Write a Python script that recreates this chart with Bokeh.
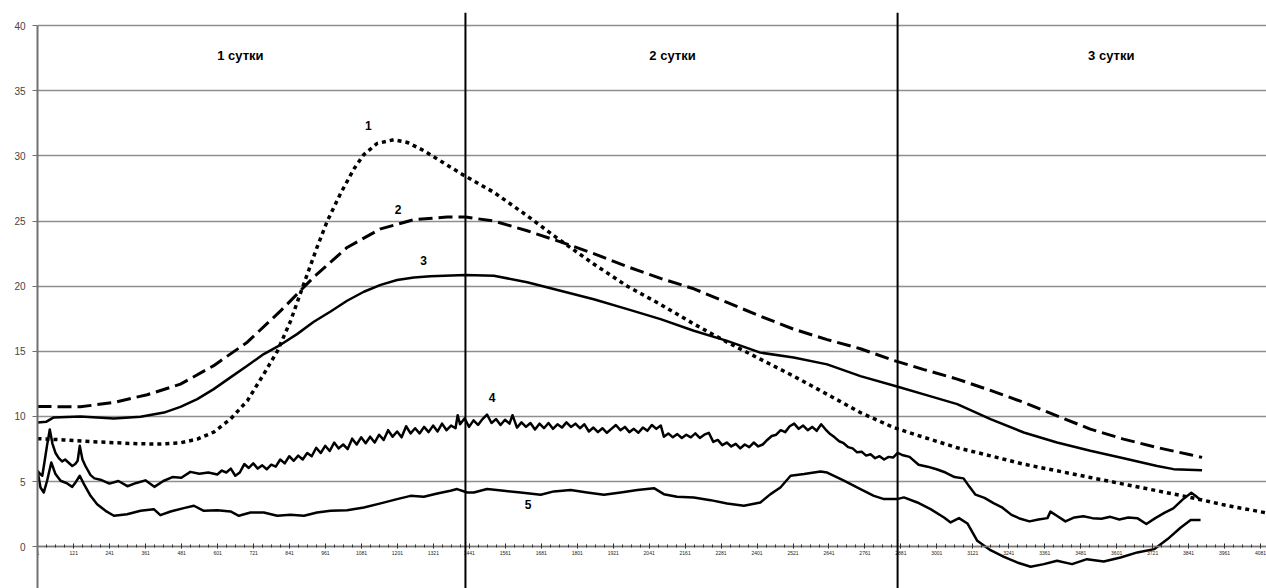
from bokeh.plotting import figure
from bokeh.models import FixedTicker, Span
from bokeh.core.properties import value
from bokeh.embed import file_html
from bokeh.resources import INLINE

# ---- axes ----
x_ticks = list(range(1, 4082, 120))
x_minor = list(range(1, 4100, 30))
y_ticks = [0, 5, 10, 15, 20, 25, 30, 35, 40]
day_bounds = [1428, 2870]
day_labels = ["1 сутки", "2 сутки", "3 сутки"]
day_label_x = [677, 2119, 3583]
day_label_y = [37.7, 37.7, 37.7]
curve_labels = ["1", "2", "3", "4", "5"]
curve_label_x = [1104, 1203, 1288, 1517, 1637]
curve_label_y = [32.3, 25.9, 21.95, 11.46, 3.22]

# ---- series 1 (dotted) ----
x1 = [0, 88, 199, 310, 400, 477, 533, 588, 644, 700, 755, 800, 844, 889, 933, 967,
      1011, 1056, 1089, 1133, 1189, 1234, 1289, 1345, 1423, 1523, 1634, 1745, 1856,
      1968, 2079, 2190, 2301, 2412, 2523, 2635, 2746, 2857, 2958, 3069, 3180, 3291,
      3402, 3513, 3624, 3736, 3847, 3958, 4101]
y1 = [8.3, 8.2, 8.05, 7.93, 7.88, 7.98, 8.26, 8.8, 9.8, 11.2, 13.25, 15.0, 17.3, 20.2,
      23.0, 25.0, 27.1, 29.0, 30.1, 30.95, 31.24, 31.03, 30.4, 29.6, 28.5, 27.2, 25.4,
      23.5, 21.7, 20.0, 18.6, 17.1, 15.7, 14.4, 13.1, 11.7, 10.3, 9.15, 8.4, 7.6, 6.98,
      6.34, 5.83, 5.32, 4.81, 4.3, 3.79, 3.22, 2.6]

# ---- series 2 (dashed) ----
x2 = [0, 143, 255, 366, 477, 588, 700, 811, 922, 1033, 1145, 1256, 1367, 1428, 1523,
      1634, 1745, 1856, 1968, 2079, 2190, 2301, 2412, 2523, 2635, 2746, 2857, 2958,
      3069, 3180, 3291, 3402, 3513, 3624, 3736, 3847, 3886]
y2 = [10.77, 10.74, 11.08, 11.67, 12.48, 13.9, 15.7, 18.1, 20.7, 22.97, 24.4, 25.1,
      25.3, 25.3, 25.0, 24.25, 23.4, 22.5, 21.5, 20.6, 19.8, 18.75, 17.7, 16.7, 15.9,
      15.2, 14.3, 13.6, 12.87, 12.0, 11.08, 10.05, 9.03, 8.26, 7.62, 7.06, 6.86]

# ---- series 3 (solid) ----
x3 = [0, 30, 54, 143, 255, 344, 422, 477, 533, 588, 644, 700, 755, 811, 866, 922, 978,
      1033, 1089, 1145, 1200, 1256, 1311, 1428, 1523, 1634, 1745, 1856, 1968, 2079,
      2190, 2301, 2412, 2523, 2635, 2746, 2868, 2958, 3069, 3180, 3291, 3402, 3513,
      3624, 3736, 3791, 3886]
y3 = [9.54, 9.6, 9.93, 10.0, 9.85, 9.98, 10.3, 10.74, 11.33, 12.1, 13.0, 13.9, 14.79,
      15.5, 16.32, 17.27, 18.06, 18.88, 19.57, 20.1, 20.47, 20.67, 20.77, 20.85, 20.8,
      20.3, 19.65, 19.0, 18.24, 17.47, 16.58, 15.8, 14.9, 14.53, 14.0, 13.1, 12.3,
      11.7, 10.95, 9.8, 8.77, 8.0, 7.37, 6.8, 6.2, 5.96, 5.88]

# ---- series 4 (noisy, upper) ----
x4_head = [0, 8, 16, 24, 32, 41, 50, 60, 71, 82, 92, 104, 116, 126, 134, 141, 150, 160,
           177, 190, 210, 240, 270, 300, 330, 360, 390, 420, 450, 480, 510, 540, 570]
y4_head = [5.83, 5.6, 5.45, 6.6, 7.8, 9.0, 7.9, 7.2, 6.8, 6.55, 6.7, 6.45, 6.2, 6.35, 6.6,
           7.75, 6.7, 6.2, 5.5, 5.25, 5.15, 4.85, 5.05, 4.65, 4.9, 5.1, 4.6, 5.05, 5.35,
           5.3, 5.75, 5.6, 5.7]
x4_mid = [600, 615, 630, 645, 660, 675, 690, 705, 720, 735, 750, 765, 780, 795, 810, 825,
          840, 855, 870, 885, 900, 915, 930, 945, 960, 975, 990, 1005, 1020, 1035, 1050,
          1065, 1080, 1095, 1110, 1125, 1140, 1155, 1170, 1185, 1200, 1215, 1230, 1245,
          1260, 1275, 1290, 1305, 1320, 1335, 1350, 1365, 1380, 1395, 1402, 1410, 1425,
          1440, 1455, 1470, 1485, 1500, 1515, 1530, 1545, 1560, 1575, 1585, 1600, 1615,
          1630, 1645, 1660, 1675, 1690, 1705, 1720, 1735, 1750, 1765, 1780, 1795, 1810,
          1825, 1840, 1855, 1870, 1885, 1900, 1915, 1930, 1945, 1960, 1975, 1990, 2005,
          2020, 2035, 2050, 2065, 2080, 2090, 2105, 2120, 2135, 2150, 2165, 2180, 2195,
          2210, 2225, 2240, 2255, 2270, 2285, 2300, 2315, 2330, 2345, 2360, 2375, 2390,
          2405, 2420, 2435, 2450, 2465, 2480, 2495, 2510, 2525, 2540, 2555, 2570, 2585,
          2600, 2615, 2630, 2645, 2660, 2675, 2690, 2705, 2720, 2735, 2750, 2765, 2780,
          2795, 2810, 2825, 2840, 2855, 2870, 2885]
y4_mid = [5.55, 5.85, 5.7, 6.0, 5.45, 5.7, 6.35, 6.05, 6.4, 6.0,
          6.25, 5.95, 6.3, 6.15, 6.7, 6.4, 6.95, 6.6, 7.0, 6.7,
          7.2, 6.95, 7.6, 7.2, 7.75, 7.35, 8.0, 7.55, 7.85, 7.5,
          8.3, 7.85, 8.4, 7.95, 8.45, 8.0, 8.6, 8.2, 8.95, 8.45,
          8.85, 8.4, 9.25, 8.7, 9.1, 8.7, 9.2, 8.8, 9.3, 8.85,
          9.45, 8.95, 9.3, 9.1, 10.1, 9.4, 9.85, 9.2, 9.7, 9.35,
          9.8, 10.15, 9.5, 9.8, 9.35, 9.75, 9.45, 10.1, 9.15, 9.55,
          9.2, 9.5, 9.0, 9.45, 9.1, 9.5, 9.05, 9.4, 9.15, 9.55,
          9.2, 9.45, 9.1, 9.4, 8.85, 9.15, 8.8, 9.1, 8.75, 9.05,
          9.35, 8.95, 9.2, 8.8, 9.05, 8.75, 9.15, 8.9, 9.35, 9.05,
          9.3, 8.45, 8.7, 8.4, 8.65, 8.35, 8.6, 8.4, 8.7, 8.35,
          8.6, 8.75, 8.05, 8.2, 7.8, 8.0, 7.7, 7.9, 7.55, 7.85,
          7.65, 8.0, 7.7, 7.85, 8.2, 8.5, 8.6, 8.95, 8.8, 9.25,
          9.45, 9.05, 9.3, 8.95, 9.2, 8.9, 9.4, 9.0, 8.65, 8.4,
          8.1, 7.95, 7.65, 7.55, 7.25, 7.3, 7.0, 7.1, 6.8, 6.95,
          6.7, 6.9, 6.85, 7.2, 7.05]
x4_tail = [2910, 2940, 2970, 3000, 3030, 3060, 3090, 3110, 3130, 3160, 3190, 3220, 3250,
           3280, 3310, 3340, 3370, 3380, 3400, 3430, 3460, 3490, 3520, 3550, 3580, 3610,
           3640, 3670, 3700, 3730, 3760, 3790, 3820, 3850, 3865, 3880]
y4_tail = [6.9, 6.3, 6.15, 5.95, 5.7, 5.35, 5.25, 4.6, 4.0, 3.75, 3.35, 3.0, 2.45, 2.15,
           1.95, 2.1, 2.2, 2.7, 2.4, 1.95, 2.25, 2.35, 2.2, 2.15, 2.3, 2.1, 2.25, 2.2,
           1.75, 2.2, 2.6, 2.95, 3.6, 4.15, 3.9, 3.6]

# ---- series 5 (lower) ----
x5 = [0, 10, 21, 32, 46, 60, 77, 99, 116, 127, 141, 155, 177, 199, 227, 255, 299, 344,
      388, 410, 444, 488, 522, 555, 600, 644, 672, 711, 755, 800, 844, 889, 933, 978,
      1033, 1089, 1145, 1200, 1245, 1289, 1334, 1378, 1400, 1434, 1456, 1500, 1556, 1612,
      1679, 1723, 1779, 1834, 1890, 1946, 2002, 2057, 2090, 2134, 2190, 2246, 2301, 2357,
      2412, 2446, 2479, 2513, 2558, 2613, 2635, 2691, 2746, 2791, 2825, 2868, 2891, 2936,
      2980, 3025, 3047, 3075, 3103, 3136, 3180, 3225, 3269, 3314, 3358, 3402, 3452, 3502,
      3558, 3614, 3670, 3726, 3771, 3815, 3848, 3881]
y5 = [5.83, 4.55, 4.17, 5.07, 6.47, 5.58, 5.07, 4.86, 4.6, 4.94, 5.45, 4.81, 3.91, 3.27,
      2.76, 2.38, 2.5, 2.76, 2.89, 2.43, 2.71, 2.97, 3.15, 2.76, 2.81, 2.71, 2.38, 2.63,
      2.63, 2.38, 2.46, 2.38, 2.63, 2.76, 2.81, 3.02, 3.33, 3.66, 3.91, 3.84, 4.09, 4.3,
      4.43, 4.17, 4.17, 4.43, 4.3, 4.17, 3.99, 4.25, 4.35, 4.17, 3.99, 4.17, 4.35, 4.5,
      4.04, 3.84, 3.79, 3.58, 3.33, 3.15, 3.4, 4.04, 4.55, 5.45, 5.58, 5.78, 5.7, 5.07,
      4.43, 3.91, 3.66, 3.66, 3.79, 3.4, 2.89, 2.25, 1.87, 2.2, 1.79, 0.46, -0.26, -0.77,
      -1.2, -1.53, -1.33, -1.07, -1.33, -0.95, -1.13, -0.82, -0.43, -0.18, 0.59, 1.48,
      2.05, 2.05]

x4 = x4_head + x4_mid + x4_tail
y4 = y4_head + y4_mid + y4_tail
assert len(x4) == len(y4), (len(x4_head), len(y4_head), len(x4_mid), len(y4_mid), len(x4_tail), len(y4_tail))
assert len(x5) == len(y5), (len(x5), len(y5))

FONT = "Liberation Sans"

p = figure(width=1266, height=588, x_range=(0, 4101), y_range=(-3.2, 41),
           output_backend="svg", toolbar_location=None,
           min_border_left=37, min_border_right=0, min_border_top=12, min_border_bottom=0)
p.outline_line_color = None
p.background_fill_color = "white"
p.border_fill_color = "white"

# x axis crossing at y = 0
xa = p.xaxis[0]
xa.fixed_location = 0
xa.ticker = FixedTicker(ticks=x_ticks, minor_ticks=x_minor)
xa.axis_line_color = "#7a7a7a"
xa.axis_line_width = 1.5
xa.major_tick_in = 3
xa.major_tick_out = 2
xa.major_tick_line_color = "#222222"
xa.minor_tick_in = 2
xa.minor_tick_out = 1
xa.minor_tick_line_color = "#333333"
xa.major_label_text_font = FONT
xa.major_label_text_font_size = "5px"
xa.major_label_text_color = "#222222"
xa.major_label_standoff = 2

ya = p.yaxis[0]
ya.ticker = FixedTicker(ticks=y_ticks)
ya.bounds = (-3.2, 40)
ya.axis_line_color = "#707070"
ya.axis_line_width = 2
ya.major_tick_in = 0
ya.major_tick_out = 5
ya.major_tick_line_color = "#707070"
ya.minor_tick_line_color = None
ya.major_label_text_font = FONT
ya.major_label_text_font_size = "10px"
ya.major_label_text_color = "#444444"
ya.major_label_standoff = 7

p.xgrid.visible = False
p.ygrid.ticker = FixedTicker(ticks=y_ticks)
p.ygrid.grid_line_color = "#8f8f8f"
p.ygrid.grid_line_width = 1.3

for b in day_bounds:
    p.add_layout(Span(location=b, dimension="height", line_color="black", line_width=2))

p.line(x1, y1, line_color="black", line_width=3.5, line_dash="4 4")
p.line(x2, y2, line_color="black", line_width=3, line_dash="14 6")
p.line(x3, y3, line_color="black", line_width=2.5)
p.line(x4, y4, line_color="black", line_width=2.5, line_join="round")
p.line(x5, y5, line_color="black", line_width=2.5, line_join="round")

p.text(x=day_label_x, y=day_label_y, text=day_labels, text_font=value(FONT),
       text_font_style="bold", text_font_size="13px", text_align="center",
       text_baseline="middle", text_color="black")
p.text(x=curve_label_x, y=curve_label_y, text=curve_labels, text_font=value(FONT),
       text_font_style="bold", text_font_size="12px", text_align="center",
       text_baseline="middle", text_color="black")

open("out.html", "w").write(file_html(p, INLINE))
